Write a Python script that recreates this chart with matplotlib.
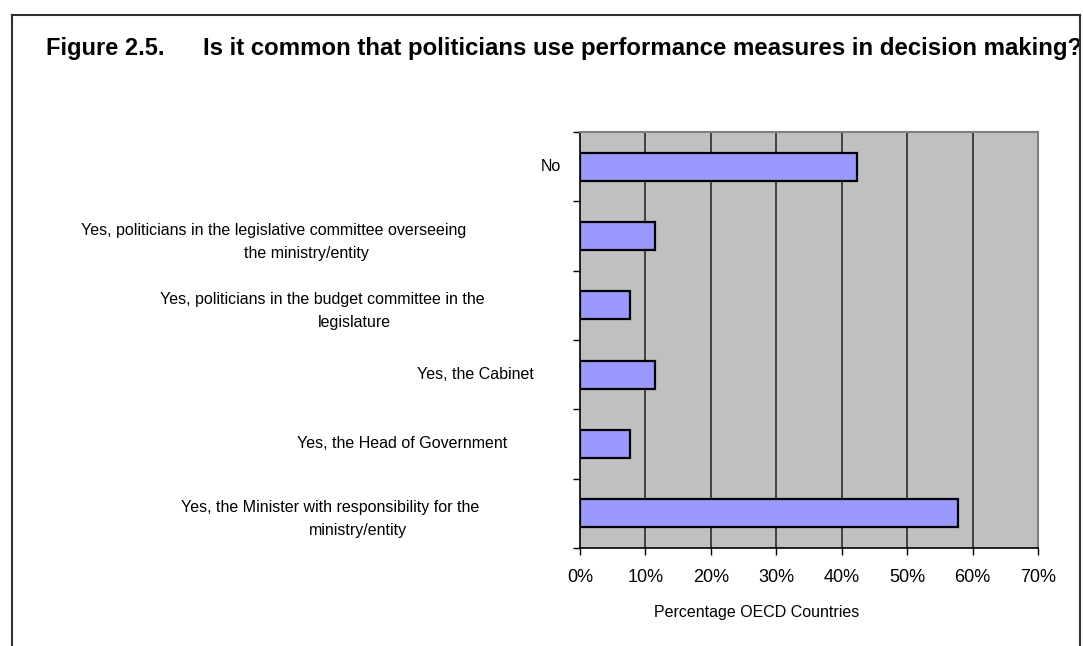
import matplotlib
matplotlib.use("Agg")
import matplotlib.pyplot as plt
from matplotlib.lines import Line2D
from matplotlib.transforms import Bbox, blended_transform_factory, offset_copy

plt.rcParams['font.family'] = ['Liberation Sans', 'DejaVu Sans']

# answers, top to bottom
categories = [
    ["No"],
    ["Yes, politicians in the legislative committee overseeing", "the ministry/entity"],
    ["Yes, politicians in the budget committee in the", "legislature"],
    ["Yes, the Cabinet"],
    ["Yes, the Head of Government"],
    ["Yes, the Minister with responsibility for the", "ministry/entity"],
]
shares = [42.3, 11.5, 7.7, 11.5, 7.7, 57.7]
x_ticks = [0, 10, 20, 30, 40, 50, 60, 70]
tick_labels = ["0%", "10%", "20%", "30%", "40%", "50%", "60%", "70%"]
# horizontal centre of each label line, in pixels
label_x = [[551], [274, 306], [322, 354], [475], [402], [330, 358]]

W, H = 1083, 646
fig = plt.figure(figsize=(W / 100, H / 100), dpi=100)

ax = fig.add_axes([580 / W, 1 - 548 / H, 458 / W, 416 / H])
ax.set_facecolor('#C0C0C0')

n = len(categories)
ypos = [n - 1 - i for i in range(n)]
ax.barh(ypos, shares, height=0.4, color='#9999FF', edgecolor='black',
        linewidth=1.6, zorder=3)

ax.set_xlim(0, 70)
ax.set_ylim(-0.5, n - 0.5)
ax.set_xticks(x_ticks)
ax.set_xticklabels(tick_labels, fontsize=13)
ax.set_yticks([k - 0.5 for k in range(n + 1)])
ax.set_yticklabels([])
ax.tick_params(axis='x', direction='out', length=5, width=1, pad=10)
ax.tick_params(axis='y', direction='out', length=5, width=1)
for v in x_ticks[1:-1]:
    ax.axvline(v, color='#2a2a2a', linewidth=1.2, zorder=1)

for side in ['left', 'bottom']:
    ax.spines[side].set_color('black')
    ax.spines[side].set_linewidth(1.2)
for side in ['top', 'right']:
    ax.spines[side].set_color('#808080')
    ax.spines[side].set_linewidth(1.5)

ax.set_xlabel("Percentage OECD Countries", fontsize=11.5)
ax.xaxis.set_label_coords((757 - 580) / 458, -(605 - 548) / 416)

# category labels, one text per wrapped line
trans = blended_transform_factory(fig.transFigure, ax.transData)
for y, lines, xs in zip(ypos, categories, label_x):
    k = len(lines)
    for j, (line, px) in enumerate(zip(lines, xs)):
        dy = (k - 1) / 2 * 8.4 - j * 16.8
        tr = offset_copy(trans, fig=fig, y=dy, units='points')
        ax.text(px / W, y, line, transform=tr, ha='center', va='center',
                fontsize=11.5, clip_on=False)

# frame around the figure
for xs, ys in [([12, 1080], [15, 15]), ([12, 12], [15, H]), ([1080, 1080], [15, H])]:
    fig.add_artist(Line2D([x / W for x in xs], [1 - y / H for y in ys],
                          color='#303030', linewidth=1.5))

clip = Bbox([[0, 0], [1079, H]])
t1 = fig.text(46 / W, 1 - 55 / H, "Figure 2.5.", fontsize=17,
              fontweight='bold', va='baseline', ha='left')
t2 = fig.text(203 / W, 1 - 55 / H,
              "Is it common that politicians use performance measures in decision making?",
              fontsize=17.25, fontweight='bold', va='baseline', ha='left')
for t in (t1, t2):
    t.set_clip_box(clip)
    t.set_clip_on(True)

fig.savefig("out.png", dpi=100)
